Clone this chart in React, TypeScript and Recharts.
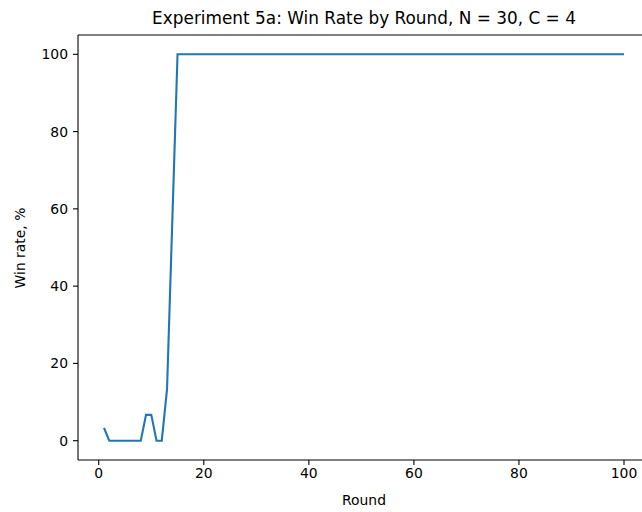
import React from "react";
import { LineChart, Line, XAxis, YAxis, ReferenceLine } from "recharts";

const rounds: number[] = Array.from({ length: 100 }, (_, i) => i + 1);
const earlyWinRates: number[] = [3.33, 0, 0, 0, 0, 0, 0, 0, 6.67, 6.67, 0, 0, 13.33, 56.67];
const plateauWinRate = 100;
const xTicks = [0, 20, 40, 60, 80, 100];
const yTicks = [0, 20, 40, 60, 80, 100];

const data = rounds.map((r, i) => ({
  round: r,
  winRate: i < earlyWinRates.length ? earlyWinRates[i] : plateauWinRate,
}));

const FONT = "'DejaVu Sans', sans-serif";
const tickStyle = { fontSize: 13.9, fill: "#000", fontFamily: FONT };

export default function App() {
  return (
    <div
      style={{
        position: "fixed",
        left: 0,
        top: 0,
        width: 642,
        height: 512,
        overflow: "hidden",
        background: "#fff",
        fontFamily: FONT,
      }}
    >
      <LineChart
        width={680}
        height={512}
        data={data}
        margin={{ top: 35, right: 30, bottom: 22, left: 18 }}
      >
        <XAxis
          xAxisId="main"
          dataKey="round"
          type="number"
          domain={[-3.95, 104.95]}
          ticks={xTicks}
          allowDataOverflow
          height={30}
          tickSize={5}
          tickMargin={3}
          tick={tickStyle}
          axisLine={{ stroke: "#000", strokeWidth: 1.1 }}
          tickLine={{ stroke: "#000", strokeWidth: 1.1 }}
        />
        <YAxis
          yAxisId="main"
          type="number"
          domain={[-5, 105]}
          ticks={yTicks}
          allowDataOverflow
          width={60}
          tickSize={5}
          tickMargin={5}
          tick={tickStyle}
          axisLine={{ stroke: "#000", strokeWidth: 1.1 }}
          tickLine={{ stroke: "#000", strokeWidth: 1.1 }}
        />
        <ReferenceLine
          xAxisId="main"
          yAxisId="main"
          y={105}
          stroke="#000"
          strokeWidth={1.1}
          ifOverflow="visible"
        />
        <Line
          xAxisId="main"
          yAxisId="main"
          type="linear"
          dataKey="winRate"
          stroke="#1f77b4"
          strokeWidth={2.1}
          dot={false}
          activeDot={false}
          isAnimationActive={false}
        />
      </LineChart>
      <div
        style={{
          position: "absolute",
          left: 0,
          width: 728,
          top: 6,
          lineHeight: "24px",
          textAlign: "center",
          fontSize: 16.9,
          color: "#000",
        }}
      >
        Experiment 5a: Win Rate by Round, N = 30, C = 4
      </div>
      <div
        style={{
          position: "absolute",
          left: 0,
          width: 728,
          top: 490,
          lineHeight: "20px",
          textAlign: "center",
          fontSize: 13.9,
          color: "#000",
        }}
      >
        Round
      </div>
      <div
        style={{
          position: "absolute",
          left: 20 - 60,
          top: 247.5 - 10,
          width: 120,
          lineHeight: "20px",
          textAlign: "center",
          fontSize: 13.9,
          color: "#000",
          transform: "rotate(-90deg)",
        }}
      >
        Win rate, %
      </div>
    </div>
  );
}
